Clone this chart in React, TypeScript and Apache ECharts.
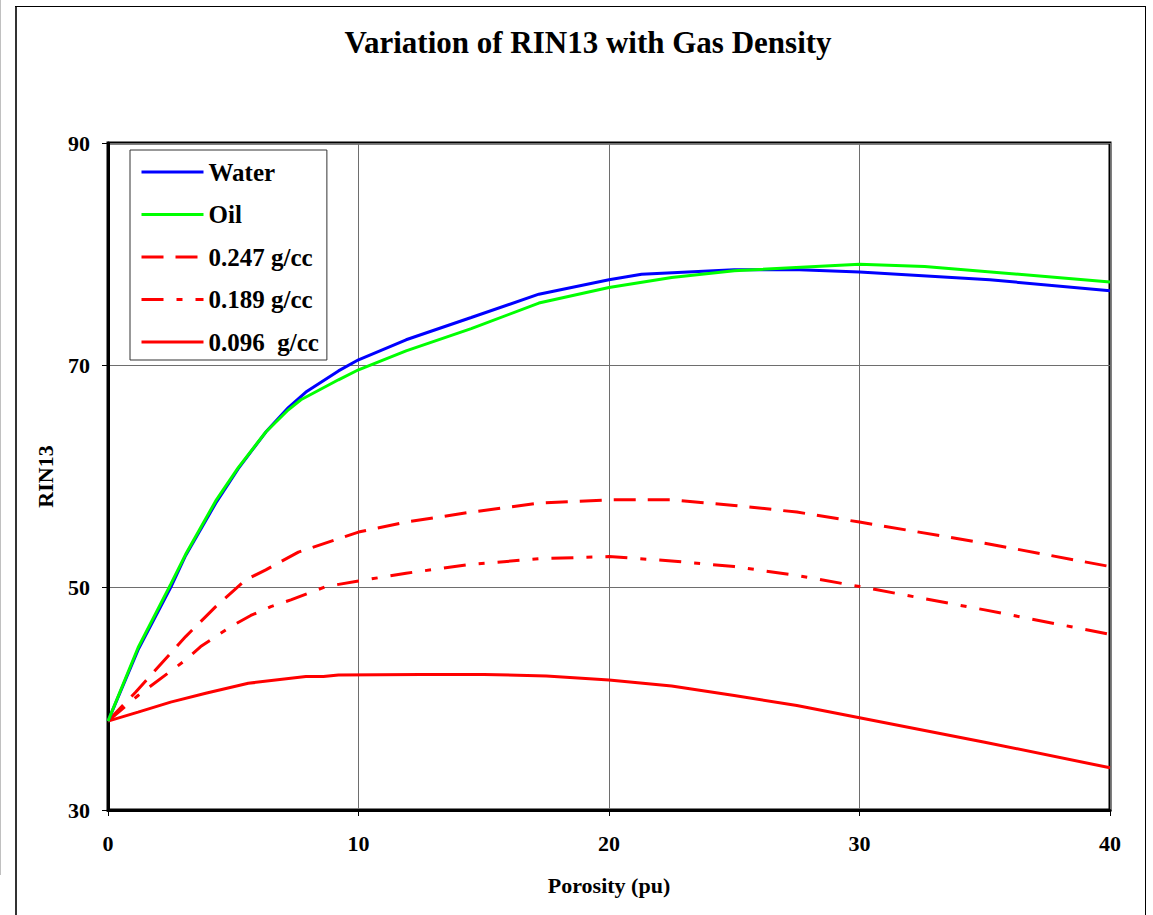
import React, { useEffect, useRef } from "react";
import * as echarts from "echarts";

const TITLE = "Variation of RIN13 with Gas Density";
const X_NAME = "Porosity (pu)";
const Y_NAME = "RIN13";

const seriesNames = ["Water", "Oil", "0.247 g/cc", "0.189 g/cc", "0.096  g/cc"];

const water: [number, number][] = [
  [0, 38], [1.2, 44.4], [2.5, 50.0], [3.1, 52.9], [4.3, 57.6], [5.2, 60.7], [6.3, 64.0],
  [7.2, 66.2], [7.9, 67.6], [9.2, 69.5], [10, 70.5], [11.9, 72.3], [14.5, 74.3], [17.2, 76.4],
  [20, 77.7], [21.3, 78.2], [25, 78.6], [27.6, 78.6], [30, 78.4], [35.2, 77.7], [40, 76.7],
];

const oil: [number, number][] = [
  [0, 38], [1.2, 44.6], [2.5, 50.3], [3.1, 53.0], [4.3, 57.8], [5.2, 60.8], [6.3, 64.0],
  [7.2, 66.0], [7.7, 66.9], [9.2, 68.7], [10, 69.6], [11.9, 71.3], [14.5, 73.3], [17.2, 75.6],
  [20, 77.0], [22.5, 77.9], [25, 78.5], [30, 79.1], [32.6, 78.9], [40, 77.5],
];

const gas247: [number, number][] = [
  [0, 38], [1.1, 40.6], [3.1, 45.6], [4.3, 48.3], [5.5, 50.7], [6.3, 51.6], [7.6, 53.2],
  [9.2, 54.4], [10, 55.0], [11.9, 55.9], [14.5, 56.8], [17.2, 57.6], [20, 57.9], [22.5, 57.9],
  [25, 57.4], [27.5, 56.8], [30, 55.9], [35, 54.0], [40, 51.9],
];

const gas189: [number, number][] = [
  [0, 38], [1.2, 40.3], [3.1, 43.5], [3.7, 44.7], [4.9, 46.5], [5.7, 47.5], [6.5, 48.3],
  [7.3, 48.9], [8.7, 50.1], [10, 50.6], [11.9, 51.3], [14.5, 52.1], [17.2, 52.6], [20, 52.8],
  [22.5, 52.4], [25, 51.9], [27.5, 51.1], [30, 50.1], [35, 48.0], [40, 45.8],
];

const gas096: [number, number][] = [
  [0, 38], [1.2, 38.8], [2.5, 39.7], [3.9, 40.5], [5.6, 41.4], [7.9, 42.0], [8.6, 42.0],
  [9.2, 42.15], [12.5, 42.2], [15, 42.2], [17.5, 42.05], [20, 41.7], [22.5, 41.15], [25, 40.3],
  [27.5, 39.4], [30, 38.3], [35, 36.1], [40, 33.8],
];

const xMin = 0, xMax = 40, xStep = 10;
const yMin = 30, yMax = 90, yStep = 20;

const FONT = "'Liberation Serif', 'Times New Roman', serif";

export default function App() {
  const ref = useRef<HTMLDivElement>(null);
  useEffect(() => {
    if (!ref.current) return;
    const chart = echarts.init(ref.current, null, { renderer: "svg" });
    const lineCommon = { type: "line", symbol: "none", showSymbol: false, smooth: false };
    chart.setOption({
      animation: false,
      backgroundColor: "#ffffff",
      title: {
        text: TITLE,
        left: 583,
        textAlign: "center",
        top: 22,
        textStyle: { fontFamily: FONT, fontWeight: "bold", fontSize: 31, color: "#000" },
      },
      grid: {
        left: 108, top: 143, width: 1002, height: 667,
        show: true, borderColor: "#000", borderWidth: 3, backgroundColor: "transparent",
      },
      legend: {
        orient: "vertical",
        left: 130, top: 150,
        backgroundColor: "#fff",
        borderColor: "#333", borderWidth: 1, borderRadius: 0,
        padding: [8, 8, 4, 10],
        itemWidth: 62, itemHeight: 14, itemGap: 14.5,
        itemStyle: { opacity: 0, borderWidth: 0 },
        lineStyle: { width: 3, opacity: 1 },
        textStyle: { fontFamily: FONT, fontWeight: "bold", fontSize: 25, color: "#000", lineHeight: 28 },
        data: seriesNames,
      },
      xAxis: {
        type: "value", min: xMin, max: xMax, interval: xStep,
        name: X_NAME, nameLocation: "middle", nameGap: 64,
        nameTextStyle: { fontFamily: FONT, fontWeight: "bold", fontSize: 22, color: "#000" },
        axisLine: { show: true, onZero: false, lineStyle: { color: "#000", width: 3 } },
        axisTick: { show: true, inside: false, length: 6, lineStyle: { color: "#000", width: 1 } },
        axisLabel: { margin: 22, fontFamily: FONT, fontWeight: "bold", fontSize: 22, color: "#000" },
        splitLine: { show: true, lineStyle: { color: "#6e6e6e", width: 1 } },
      },
      yAxis: {
        type: "value", min: yMin, max: yMax, interval: yStep,
        name: Y_NAME, nameLocation: "middle", nameGap: 52, nameRotate: 90,
        nameTextStyle: { fontFamily: FONT, fontWeight: "bold", fontSize: 22, color: "#000" },
        axisLine: { show: true, onZero: false, lineStyle: { color: "#000", width: 3 } },
        axisTick: { show: true, inside: false, length: 6, lineStyle: { color: "#000", width: 1 } },
        axisLabel: { margin: 18, fontFamily: FONT, fontWeight: "bold", fontSize: 22, color: "#000" },
        splitLine: { show: true, lineStyle: { color: "#6e6e6e", width: 1 } },
      },
      graphic: [
        { type: "line", silent: true, shape: { x1: 0.5, y1: 0, x2: 0.5, y2: 875 }, style: { stroke: "#c0c0c0", lineWidth: 1 } },
        { type: "line", silent: true, shape: { x1: 16, y1: 6, x2: 16, y2: 915 }, style: { stroke: "#333", lineWidth: 2 } },
        { type: "line", silent: true, shape: { x1: 15, y1: 6.5, x2: 1146, y2: 6.5 }, style: { stroke: "#000", lineWidth: 1 } },
        { type: "line", silent: true, shape: { x1: 1145.5, y1: 6, x2: 1145.5, y2: 915 }, style: { stroke: "#000", lineWidth: 1 } },
      ],
      series: [
        { ...lineCommon, name: seriesNames[0], data: water, z: 5, lineStyle: { color: "#0000ff", width: 3, type: "solid" }, itemStyle: { color: "#0000ff" } },
        { ...lineCommon, name: seriesNames[1], data: oil, z: 6, lineStyle: { color: "#00ff00", width: 3, type: "solid" }, itemStyle: { color: "#00ff00" } },
        { ...lineCommon, name: seriesNames[2], data: gas247, lineStyle: { color: "#ff0000", width: 3, type: [22, 12] }, itemStyle: { color: "#ff0000" } },
        { ...lineCommon, name: seriesNames[3], data: gas189, lineStyle: { color: "#ff0000", width: 3, type: [22, 13, 6, 13] }, itemStyle: { color: "#ff0000" } },
        { ...lineCommon, name: seriesNames[4], data: gas096, lineStyle: { color: "#ff0000", width: 3, type: "solid" }, itemStyle: { color: "#ff0000" } },
      ],
    });
    return () => chart.dispose();
  }, []);
  return <div ref={ref} style={{ position: "absolute", left: 0, top: 0, width: 1153, height: 915 }} />;
}
